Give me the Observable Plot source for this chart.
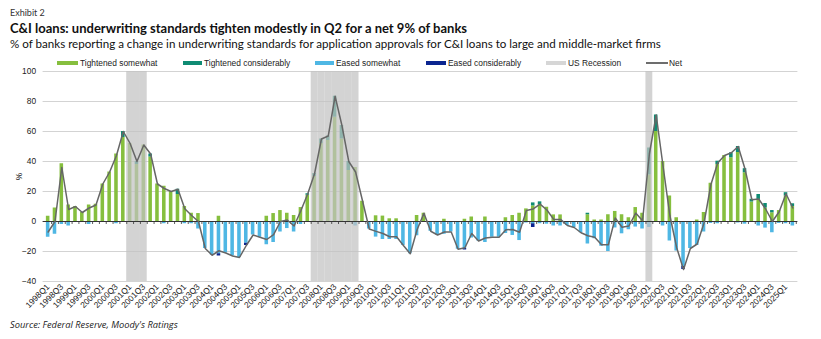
<!DOCTYPE html>
<html>
<head>
<meta charset="utf-8">
<script src="https://cdn.jsdelivr.net/npm/d3@7"></script>
<script src="https://cdn.jsdelivr.net/npm/@observablehq/plot@0.6"></script>
<style>
  html, body { margin: 0; padding: 0; background: #fff; }
  #wrap { position: relative; width: 821px; height: 339px; overflow: hidden; font-family: Lato, "Open Sans", sans-serif; color: #1a1a1a; }
  .abs { position: absolute; white-space: nowrap; }
  #exhibit { left: 10px; top: 7px; font-size: 9px; color: #333; }
  #title { left: 10px; top: 20px; font-size: 13px; font-weight: bold; color: #111; }
  #subtitle { left: 10px; top: 37px; font-size: 11.6px; color: #111; }
  .lg { position: absolute; top: 58px; display: flex; align-items: center; font-family: "Liberation Sans", Arial, sans-serif; font-size: 8.4px; color: #222; white-space: nowrap; }
  .sw { display: inline-block; height: 4px; margin-right: 2px; }
  .ln { display: inline-block; height: 2px; margin-right: 1px; background: #6d6d6d; }
  #chart { position: absolute; left: 0; top: 62px; }
  #source { left: 10px; top: 318px; font-size: 9.3px; font-style: italic; color: #222; font-family: "Open Sans", sans-serif; }
</style>
</head>
<body>
<div id="wrap">
  <div id="exhibit" class="abs">Exhibit 2</div>
  <div id="title" class="abs">C&amp;I loans: underwriting standards tighten modestly in Q2 for a net 9% of banks</div>
  <div id="subtitle" class="abs">% of banks reporting a change in underwriting standards for application approvals for C&amp;I loans to large and middle-market firms</div>
  <div id="legend"></div>
  <div id="chart"></div>
  <div id="source" class="abs">Source: Federal Reserve, Moody's Ratings</div>
</div>
<script>
const quarters = [
  "1998Q1","1998Q2","1998Q3","1998Q4","1999Q1","1999Q2","1999Q3","1999Q4",
  "2000Q1","2000Q2","2000Q3","2000Q4","2001Q1","2001Q2","2001Q3","2001Q4",
  "2002Q1","2002Q2","2002Q3","2002Q4","2003Q1","2003Q2","2003Q3","2003Q4",
  "2004Q1","2004Q2","2004Q3","2004Q4","2005Q1","2005Q2","2005Q3","2005Q4",
  "2006Q1","2006Q2","2006Q3","2006Q4","2007Q1","2007Q2","2007Q3","2007Q4",
  "2008Q1","2008Q2","2008Q3","2008Q4","2009Q1","2009Q2","2009Q3","2009Q4",
  "2010Q1","2010Q2","2010Q3","2010Q4","2011Q1","2011Q2","2011Q3","2011Q4",
  "2012Q1","2012Q2","2012Q3","2012Q4","2013Q1","2013Q2","2013Q3","2013Q4",
  "2014Q1","2014Q2","2014Q3","2014Q4","2015Q1","2015Q2","2015Q3","2015Q4",
  "2016Q1","2016Q2","2016Q3","2016Q4","2017Q1","2017Q2","2017Q3","2017Q4",
  "2018Q1","2018Q2","2018Q3","2018Q4","2019Q1","2019Q2","2019Q3","2019Q4",
  "2020Q1","2020Q2","2020Q3","2020Q4","2021Q1","2021Q2","2021Q3","2021Q4",
  "2022Q1","2022Q2","2022Q3","2022Q4","2023Q1","2023Q2","2023Q3","2023Q4",
  "2024Q1","2024Q2","2024Q3","2024Q4","2025Q1","2025Q2"
];

const tightenedSomewhat = [
  3.5, 9, 38.5, 11, 10, 6, 11, 11.5, 25, 33,
  45, 56, 52, 38, 51, 43, 25, 23.5, 20, 18,
  10, 5.5, 5.3, 0, 0, 3.5, 0, 0, 0, 0,
  0, 0, 3.5, 5.3, 7.3, 5.5, 4, 9.3, 17.5, 30,
  52, 54, 69.5, 55, 34, 36, 13.5, 0, 3.8, 3.6,
  1.8, 1.8, 0, 0, 4, 5.5, 0, 0, 1.5, 0,
  0, 1.5, 3, 0, 3, 0, 0, 2.5, 4, 5.5,
  8.4, 10.4, 11.3, 9.5, 4.4, 4.4, 0, 0, 0, 4.5,
  1, 1, 4.5, 6.7, 4.5, 2.5, 9.3, 5.5, 31, 60,
  40, 17, 2.5, 0, 0, 1, 6, 25.5, 38, 44,
  42.5, 46, 32.5, 13, 14.7, 9, 5.8, 7.3, 17, 10
];

const tightenedConsiderably = [
  0, 0, 0, 0, 0, 0, 0, 0, 0, 0,
  0, 4, 0, 2, 0, 2, 0, 0, 0, 3.5,
  0, 0, 0, 0, 0, 0, 0, 0, 0, 0,
  0, 0, 0, 0, 0, 0, 0, 0, 1, 2,
  3, 3, 14, 9, 6, 0, 0, 0, 0, 0,
  0, 0, 0, 0, 0, 0, 0, 0, 0, 0,
  0, 0, 0, 0, 0, 0, 0, 0, 0, 0,
  0, 2, 1.8, 0, 0, 0, 0, 0, 0, 1,
  0, 0, 0, 0, 0, 0, 0, 0, 18, 11,
  0, 0, 0, 0, 0, 0, 0, 0, 2.2, 0,
  3.3, 4, 2.7, 1.8, 3.3, 3, 1.5, 0, 2.2, 1.8
];

const easedSomewhat = [
  -10.5, -8.5, -2, -3, 0, 0, -2, 0, 0, 0,
  -1.5, 0, 0, 0, 0, 0, 0, -1.5, 0, 0,
  -1.5, -1.5, -5, -18, -22.5, -21.5, -21, -23, -24, -14.5,
  -9, -10.5, -15.5, -14, -7, -4.7, -7, -2, 0, 0,
  0, 0, 0, 0, 0, -3, 0, -5, -10.4, -12,
  -12, -12, -16, -21.5, -9.5, 0, -6.5, -9, -8.5, -7,
  -18.5, -18, -11, -13, -14, -10.5, -10.5, -8, -9.3, -12.7,
  -1, -1.5, -1.5, -1.8, -3, -3, -2.7, -4, -7.5, -15,
  -11.5, -16.5, -20, -4.3, -8.2, -5.5, -3.7, -5, -4, 0,
  -3, -13, -19.7, -30, -18, -16, -7, -1.3, -1.5, 0,
  0, -1, -1.8, 0, -3, -4.4, -7.5, -1.3, -1.5, -3
];

const easedConsiderably = [
  0, 0, 0, 0, 0, 0, 0, 0, 0, 0,
  0, 0, 0, 0, 0, 0, 0, 0, 0, 0,
  0, 0, 0, 0, 0, -1.5, 0, 0, 0, -1.5,
  0, 0, 0, 0, 0, 0, 0, 0, 0, 0,
  0, 0, 0, 0, 0, 0, 0, 0, 0, 0,
  0, 0, 0, 0, 0, 0, 0, 0, 0, 0,
  0, -1, 0, 0, 0, 0, 0, 0, 0, 0,
  0, -2.5, 0, 0, 0, 0, 0, 0, 0, 0,
  0, 0, 0, 0, 0, 0, 0, 0, 0, 0,
  0, 0, 0, -2, 0, 0, 0, 0, 0, 0,
  0, 0, 0, 0, 0, 0, 0, 0, 0, 0
];

const net = [
  -7, 0, 36, 8, 10, 6, 9, 11, 25, 33,
  44, 60, 52, 40, 51, 45, 25, 22, 20, 21.5,
  8.5, 4, 0, -18, -22.5, -19.5, -21, -23, -24, -16,
  -9, -10.5, -12, -8.7, 0, 1, -3, 7.3, 18.5, 32,
  55, 57, 83.5, 64, 40, 33, 14, -5, -6.6, -8,
  -10.2, -10.2, -16, -21.5, -5.5, 5.5, -6.5, -9, -7, -7,
  -18.5, -17.5, -8, -13, -11, -10.5, -10.5, -5.5, -5.3, -7.2,
  7.4, 8.4, 11.6, 7.7, 1.4, 1.4, -2.7, -4, -7.5, -9.5,
  -10.5, -15.5, -15.5, 2.4, -3.8, -3, 5.6, 0.5, 45, 71,
  37, 4, -17.5, -32, -18, -15, -1, 24.5, 39, 44,
  45.8, 50, 35, 14.5, 15, 8.5, 0, 6.5, 18.5, 9
];

const recessionQuarters = [
  "2001Q1","2001Q2","2001Q3",
  "2007Q4","2008Q1","2008Q2","2008Q3","2008Q4","2009Q1","2009Q2",
  "2020Q1"
];

const seriesNames = ["Tightened somewhat", "Tightened considerably", "Eased somewhat", "Eased considerably"];
const seriesColors = ["#86bf3e", "#0f8b73", "#4fb7e4", "#0b2590"];
const recessionLabel = "US Recession";
const netLabel = "Net";
const yTicks = [-40, -20, 0, 20, 40, 60, 80, 100];
const xTickLabels = quarters.filter(q => q.endsWith("Q1") || q.endsWith("Q3"));

// long table for stacking
const seriesValues = [tightenedSomewhat, tightenedConsiderably, easedSomewhat, easedConsiderably];
const stacked = [];
quarters.forEach((q, i) => {
  seriesNames.forEach((s, k) => {
    const v = seriesValues[k][i];
    if (v !== 0) stacked.push({q, series: s, value: v});
  });
});
const netRows = quarters.map((q, i) => ({q, net: net[i]}));

const W = 821, H = 255;
const mL = 42.6, mR = 23.6;
const step = (W - mL - mR) / quarters.length;

const chart = Plot.plot({
  width: W,
  height: H,
  marginTop: 9,
  marginBottom: 36,
  marginLeft: mL,
  marginRight: mR,
  style: { fontFamily: "'Liberation Sans', Arial, sans-serif", fontSize: "8.4px", color: "#222", background: "transparent", overflow: "visible" },
  x: { type: "band", domain: quarters, padding: 0.48, align: 0.5 },
  y: { domain: [-40, 100] },
  color: { domain: seriesNames, range: seriesColors },
  marks: [
    Plot.gridY(yTicks.filter(t => t !== 0), { stroke: "#d3d3d3", strokeOpacity: 1, strokeWidth: 1 }),
    Plot.barY(stacked, { x: "q", y: "value", fill: "series", order: seriesNames }),
    Plot.barY(recessionQuarters, { x: d => d, y1: -40, y2: 100, fill: "#c2c2c2", fillOpacity: 0.72, insetLeft: -step * 0.24, insetRight: -step * 0.24 }),
    Plot.ruleY([0], { stroke: "#333", strokeWidth: 1 }),
    Plot.ruleX(quarters, { x: d => d, y1: 0, y2: -2, dx: step / 2, stroke: "#333", strokeWidth: 0.8 }),
    Plot.lineY(netRows, { x: "q", y: "net", stroke: "#666", strokeWidth: 1.5 }),
    Plot.axisY({ ticks: yTicks, tickSize: 0, tickPadding: 7, label: "%", labelAnchor: "center", labelOffset: 27, labelArrow: "none" }),
    Plot.axisX({ ticks: xTickLabels, tickRotate: -45, tickSize: 0, tickPadding: 4, label: null, fontSize: 8.4 })
  ]
});
document.getElementById("chart").appendChild(chart);

// legend
const legend = document.getElementById("legend");
const legendItems = [
  { label: seriesNames[0], color: seriesColors[0], left: 57, w: 21 },
  { label: seriesNames[1], color: seriesColors[1], left: 183, w: 19 },
  { label: seriesNames[2], color: seriesColors[2], left: 315, w: 19 },
  { label: seriesNames[3], color: seriesColors[3], left: 426, w: 20 },
  { label: recessionLabel, color: "#d6d6d6", left: 546, w: 20 },
];
legendItems.forEach(it => {
  const d = document.createElement("div");
  d.className = "lg";
  d.style.left = it.left + "px";
  const sw = document.createElement("span");
  sw.className = "sw";
  sw.style.width = it.w + "px";
  sw.style.background = it.color;
  d.appendChild(sw);
  d.appendChild(document.createTextNode(it.label));
  legend.appendChild(d);
});
const dn = document.createElement("div");
dn.className = "lg";
dn.style.left = "646px";
const ln = document.createElement("span");
ln.className = "ln";
ln.style.width = "22px";
dn.appendChild(ln);
dn.appendChild(document.createTextNode(netLabel));
legend.appendChild(dn);
</script>
</body>
</html>
